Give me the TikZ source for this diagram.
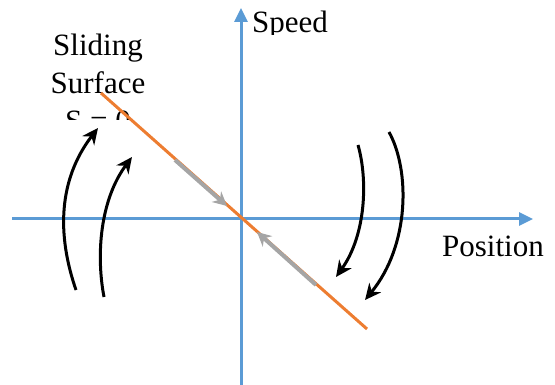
\documentclass[tikz,border=0pt]{standalone}
\usepackage{fontspec}
\newfontfamily\labelfont{Liberation Serif}
\usetikzlibrary{arrows.meta}
\definecolor{axisblue}{RGB}{91,155,213}
\definecolor{surforange}{RGB}{237,125,49}
\definecolor{trajgray}{RGB}{165,165,165}
\begin{document}
\begin{tikzpicture}[x=1pt, y=-1pt,
    every node/.style={font=\labelfont\fontsize{31}{38}\selectfont, inner sep=0pt},
    axis/.style={axisblue, line width=3pt, -{Triangle[length=14pt, width=13pt]}},
    reach/.style={line width=3pt, -{Stealth[length=16pt, width=15pt]}},
    slide/.style={trajgray, line width=4pt, -{Stealth[length=14pt, width=14pt]}}]
    \useasboundingbox (0,0) rectangle (555,385);
    \coordinate (o) at (241,219);
    \draw[axis] (12,219) -- (533,219);
    \draw[axis] (241,385) -- (241,8);
    \begin{scope}
        \clip (245,0) rectangle (345,35);
        \node[anchor=base west] (speed) at (252,33) {Speed};
    \end{scope}
    \node[anchor=base west] (pos) at (442,257) {Position};
    \begin{scope}
        \clip (0,0) rectangle (200,120);
        \node[align=center, anchor=north] (surf) at (98,34) {Sliding\\Surface\\S = 0};
    \end{scope}
    \draw[surforange, line width=3pt] (101,93) -- (367,329);
    \draw[slide] (175,160) -- (227,206);
    \draw[slide] (316,285) -- (257,232);
    \draw[reach] (76,290) .. controls (57,235) and (58,180) .. (98,128);
    \draw[reach] (104,297) .. controls (96,255) and (100,200) .. (132,157);
    \draw[reach] (358,145) .. controls (368,180) and (366,235) .. (336,277);
    \draw[reach] (389,132) .. controls (410,170) and (410,245) .. (365,300);
\end{tikzpicture}
\end{document}
